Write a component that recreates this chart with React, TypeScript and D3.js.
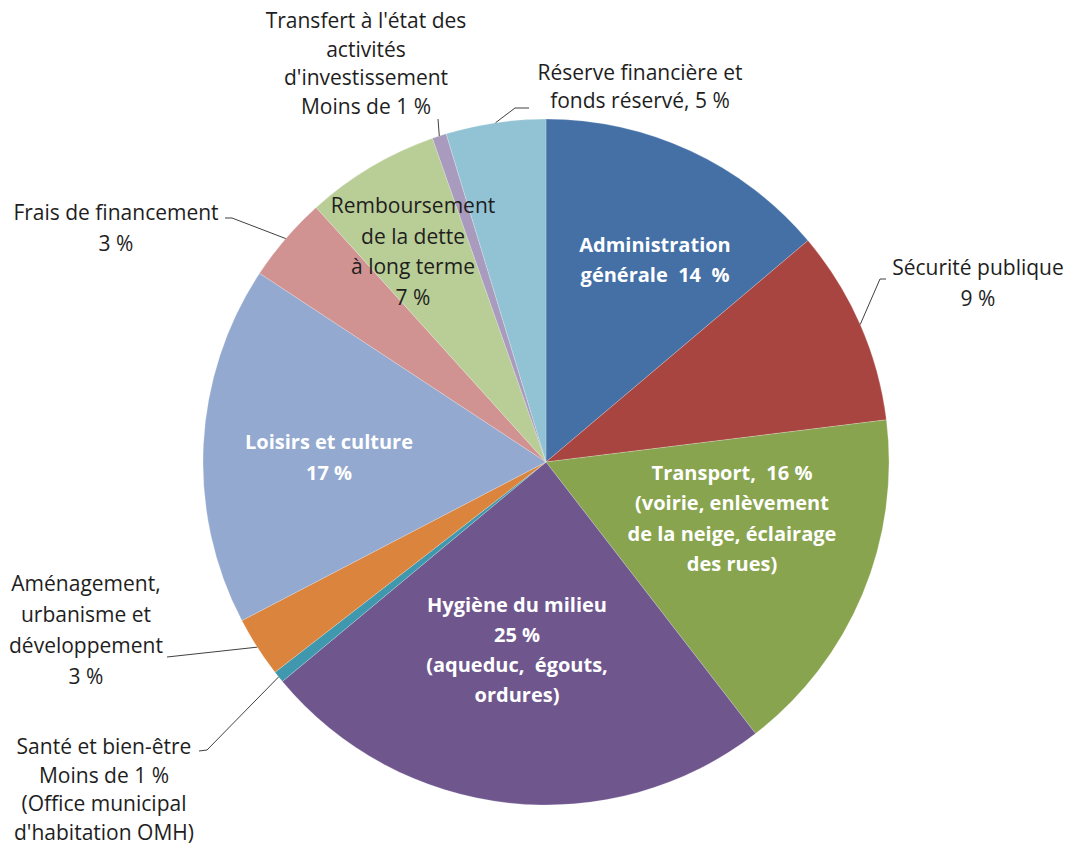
import * as d3 from 'd3';
import React, { useEffect, useRef } from 'react';

// budget shares (%), clockwise from 12 o'clock
const categories = [
    'Administration générale',
    'Sécurité publique',
    'Transport',
    'Hygiène du milieu',
    'Santé et bien-être',
    'Aménagement, urbanisme et développement',
    'Loisirs et culture',
    'Frais de financement',
    'Remboursement de la dette à long terme',
    "Transfert à l'état des activités d'investissement",
    'Réserve financière et fonds réservé',
];
const shares = [13.83, 9.21, 16.5, 24.41, 0.55, 2.85, 16.92, 4.04, 6.32, 0.67, 4.7];
const colors = ['#4470a6', '#a94541', '#88a44e', '#6f578e', '#3f98ae', '#db843d',
    '#93a9cf', '#d19392', '#b9cd96', '#a99bbd', '#92c3d4'];

// label texts per slice
const labelLines = [
    ['Administration', 'générale  14  %'],
    ['Sécurité publique', '9 %'],
    ['Transport,  16 %', '(voirie, enlèvement', 'de la neige, éclairage', 'des rues)'],
    ['Hygiène du milieu', '25 %', '(aqueduc,  égouts,', 'ordures)'],
    ['Santé et bien-être', 'Moins de 1 %', '(Office municipal', "d'habitation OMH)"],
    ['Aménagement,', 'urbanisme et', 'développement', '3 %'],
    ['Loisirs et culture', '17 %'],
    ['Frais de financement', '3 %'],
    ['Remboursement', 'de la dette', 'à long terme', '7 %'],
    ["Transfert à l'état des", 'activités', "d'investissement", 'Moins de 1 %'],
    ['Réserve financière et', 'fonds réservé, 5 %'],
];

const W = 1071;
const H = 846;
const cx = 546;
const cy = 462;
const R = 343;

// label layout: inside = white bold inside the pie, otherwise outside with leader
type Lay = { x: number, y: number, gap: number, inside?: boolean, dark?: boolean, leader?: [number, number][] };
const layout: Lay[] = [
    { x: 655, y: 244, gap: 30, inside: true },
    { x: 978, y: 267, gap: 31, leader: [[880, 279], [886, 279]] },
    { x: 732, y: 472, gap: 30.5, inside: true },
    { x: 517, y: 604, gap: 30, inside: true },
    { x: 104, y: 746, gap: 28.5, leader: [[207, 750], [199, 751]] },
    { x: 86, y: 583, gap: 31, leader: [[167, 657]] },
    { x: 329, y: 441, gap: 31, inside: true },
    { x: 116, y: 212, gap: 31, leader: [[232, 218], [225, 218]] },
    { x: 413, y: 205, gap: 30.7, inside: true, dark: true },
    { x: 366, y: 20, gap: 28.5, leader: [[438, 119]] },
    { x: 640, y: 72, gap: 28, leader: [[515, 108], [529, 108]] },
];

const App = () => {
    const ref = useRef<SVGSVGElement>(null);

    useEffect(() => {
        const svg = d3.select(ref.current);
        svg.selectAll('*').remove();

        const data = categories.map((c, i) => ({ name: c, value: shares[i], i: i }));
        const pie = d3.pie<any>().value(d => d.value).sort(null);
        const arc = d3.arc<any>().innerRadius(0).outerRadius(R);
        const arcs = pie(data);

        const g = svg.append('g').attr('transform', 'translate(' + cx + ',' + cy + ')');
        g.selectAll('path')
            .data(arcs)
            .enter()
            .append('path')
            .attr('d', arc)
            .attr('fill', d => colors[d.data.i])
            .attr('stroke', '#ffffff')
            .attr('stroke-opacity', 0.35)
            .attr('stroke-width', 0.6);

        // leader lines from the slice's outer edge
        arcs.forEach((a, i) => {
            const lay = layout[i];
            if (!lay.leader) return;
            const mid = (a.startAngle + a.endAngle) / 2;
            const pts: [number, number][] = [[cx + R * Math.sin(mid), cy - R * Math.cos(mid)]].concat(lay.leader) as any;
            svg.append('path')
                .attr('d', d3.line()(pts))
                .attr('fill', 'none')
                .attr('stroke', '#404040')
                .attr('stroke-width', 1);
        });

        // labels
        layout.forEach((lay, i) => {
            const bold = lay.inside && !lay.dark;
            const t = svg.append('text')
                .attr('text-anchor', 'middle')
                .attr('font-family', '"Open Sans", "Noto Sans", sans-serif')
                .attr('font-size', bold ? 20 : 21)
                .attr('font-weight', bold ? 'bold' : 'normal')
                .attr('fill', bold ? '#ffffff' : '#1e1e1e');
            labelLines[i].forEach((line, k) => {
                t.append('tspan')
                    .attr('x', lay.x)
                    .attr('y', lay.y + k * lay.gap)
                    .attr('dominant-baseline', 'central')
                    .attr('xml:space', 'preserve')
                    .style('white-space', 'pre')
                    .text(line);
            });
        });
    }, []);

    return (
        <svg ref={ref} width={W} height={H}
            style={{ position: 'absolute', left: 0, top: 0, background: '#ffffff' }} />
    );
};

export default App;
